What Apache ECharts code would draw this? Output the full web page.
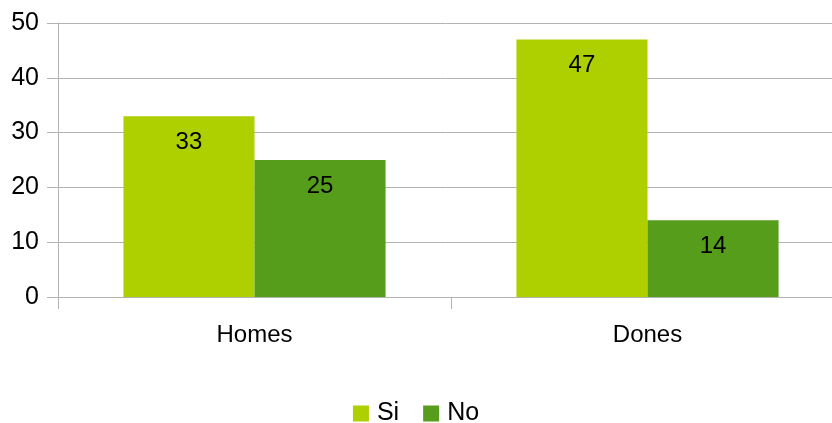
<!DOCTYPE html>
<html>
<head>
<meta charset="utf-8">
<script src="https://cdn.jsdelivr.net/npm/echarts@6/dist/echarts.min.js"></script>
<style>
  html, body { margin: 0; padding: 0; background: #fff; overflow: hidden; }
  #chart { width: 832px; height: 423px; }
</style>
</head>
<body>
<div id="chart"></div>
<script>
// Survey answers per group
const categories = ['Homes', 'Dones'];
const seriesNames = ['Si', 'No'];
const siValues = [33, 47];
const noValues = [25, 14];
const yTicks = { min: 0, max: 50, interval: 10 };

const FONT = '"Liberation Sans", Arial, sans-serif';
const GRID_COLOR = '#b3b3b3';

const chart = echarts.init(document.getElementById('chart'), null, { renderer: 'canvas' });

const labelStyle = {
  show: true,
  position: 'insideTop',
  distance: 14,
  color: '#000',
  fontFamily: FONT,
  fontSize: 24
};

chart.setOption({
  animation: false,
  textStyle: { fontFamily: FONT },
  // plot area runs past the right edge of the canvas
  grid: {
    left: 58, width: 786, top: 23, height: 274,
    containLabel: false,
    outerBoundsMode: 'none'
  },
  legend: {
    data: seriesNames,
    top: 396,
    left: 'center',
    itemWidth: 16,
    itemHeight: 16,
    itemGap: 24,
    icon: 'rect',
    textStyle: { fontSize: 25, color: '#000', fontFamily: FONT, padding: [0, 0, 0, 3] }
  },
  xAxis: {
    type: 'category',
    data: categories,
    axisLine: { lineStyle: { color: GRID_COLOR, width: 1 } },
    axisTick: { show: true, length: 12, lineStyle: { color: GRID_COLOR } },
    axisLabel: { color: '#000', fontSize: 24, margin: 26, fontFamily: FONT },
    splitLine: { show: false }
  },
  yAxis: {
    type: 'value',
    min: yTicks.min,
    max: yTicks.max,
    interval: yTicks.interval,
    axisLine: { show: true, lineStyle: { color: GRID_COLOR, width: 1 } },
    axisTick: { show: true, length: 11, lineStyle: { color: GRID_COLOR } },
    axisLabel: { color: '#000', fontSize: 25, margin: 19, fontFamily: FONT },
    splitLine: { show: true, lineStyle: { color: GRID_COLOR, width: 1 } }
  },
  series: [
    {
      name: seriesNames[0],
      type: 'bar',
      data: siValues,
      barGap: '0%',
      barCategoryGap: '33.3%',
      itemStyle: { color: '#aecf00' },
      label: labelStyle
    },
    {
      name: seriesNames[1],
      type: 'bar',
      data: noValues,
      itemStyle: { color: '#579d1c' },
      label: labelStyle
    }
  ]
});
</script>
</body>
</html>
